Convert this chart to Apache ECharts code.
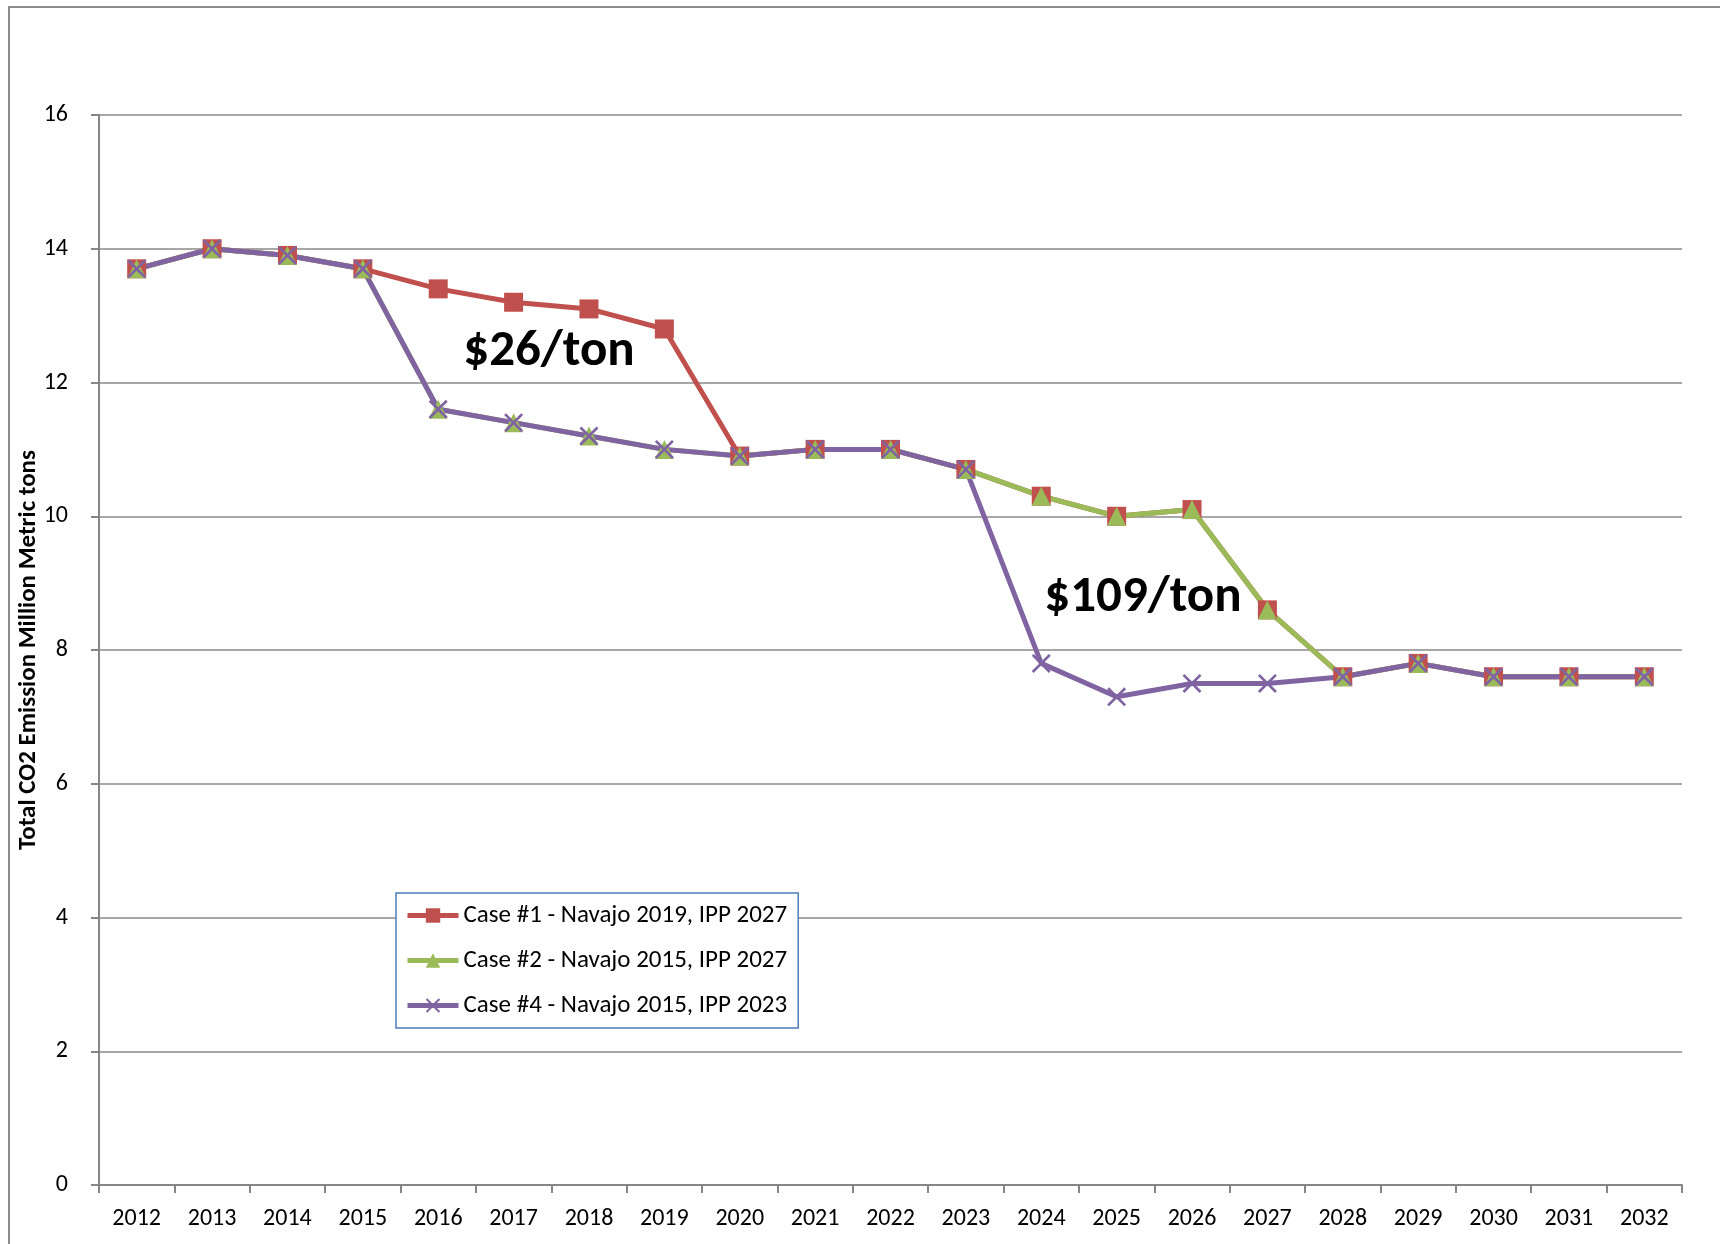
<!DOCTYPE html>
<html>
<head>
<meta charset="utf-8">
<script src="https://cdn.jsdelivr.net/npm/echarts@6/dist/echarts.min.js"></script>
<style>
html,body{margin:0;padding:0;background:#fff;}
#chart{width:1720px;height:1244px;}
</style>
</head>
<body>
<div id="chart"></div>
<script>
const years = ['2012','2013','2014','2015','2016','2017','2018','2019','2020','2021','2022','2023','2024','2025','2026','2027','2028','2029','2030','2031','2032'];
const case1 = [13.7,14.0,13.9,13.7,13.4,13.2,13.1,12.8,10.9,11.0,11.0,10.7,10.3,10.0,10.1,8.6,7.6,7.8,7.6,7.6,7.6];
const case2 = [13.7,14.0,13.9,13.7,11.6,11.4,11.2,11.0,10.9,11.0,11.0,10.7,10.3,10.0,10.1,8.6,7.6,7.8,7.6,7.6,7.6];
const case4 = [13.7,14.0,13.9,13.7,11.6,11.4,11.2,11.0,10.9,11.0,11.0,10.7,7.8,7.3,7.5,7.5,7.6,7.8,7.6,7.6,7.6];
const seriesNames = ['Case #1 - Navajo 2019, IPP 2027','Case #2 - Navajo 2015, IPP 2027','Case #4 - Navajo 2015, IPP 2023'];
const yAxisTitle = 'Total CO2 Emission Million Metric tons';
const annotations = ['$26/ton','$109/ton'];

const FONT = 'Carlito, "Liberation Sans", Arial, sans-serif';
const crossPath = 'path://M0,1L1,0L5,4L9,0L10,1L6,5L10,9L9,10L5,6L1,10L0,9L4,5Z';

const chart = echarts.init(document.getElementById('chart'), null, {renderer:'canvas'});
chart.setOption({
  animation:false,
  backgroundColor:'#ffffff',
  textStyle:{fontFamily:FONT},
  grid:{left:99,right:38,top:115,bottom:59,containLabel:false},
  xAxis:{
    type:'category',
    data:years,
    boundaryGap:true,
    axisLine:{show:true,lineStyle:{color:'#868686',width:2}},
    axisTick:{show:true,length:8,lineStyle:{color:'#868686',width:2}},
    axisLabel:{color:'#000',fontSize:24,fontFamily:FONT,margin:22,interval:0},
    splitLine:{show:false}
  },
  yAxis:{
    type:'value',
    min:0,max:16,interval:2,
    name:yAxisTitle,
    nameLocation:'middle',
    nameGap:58,
    nameMoveOverlap:false,
    nameRotate:90,
    nameTextStyle:{color:'#000',fontSize:25,fontWeight:'bold',fontFamily:FONT},
    axisLine:{show:true,lineStyle:{color:'#868686',width:2}},
    axisTick:{show:true,length:8,lineStyle:{color:'#868686',width:2}},
    axisLabel:{color:'#000',fontSize:24,fontFamily:FONT,margin:31},
    splitLine:{show:true,lineStyle:{color:'#8a8a8a',width:1.5}}
  },
  legend:{
    orient:'vertical',
    left:396,top:893,
    data:seriesNames,
    backgroundColor:'#ffffff',
    borderColor:'#4A7EBB',
    borderWidth:1.5,
    borderRadius:0,
    padding:[9,11,9,9],
    itemWidth:51,
    itemHeight:18,
    itemGap:18,
    lineStyle:{width:5},
    textStyle:{color:'#000',fontSize:25,fontFamily:FONT,lineHeight:27},
    z:10
  },
  graphic:[
    {type:'rect',shape:{x:9,y:7,width:1760,height:1300},style:{fill:null,stroke:'#8c8c8c',lineWidth:2},silent:true,z:-1},
    {type:'text',x:549,y:352,style:{text:annotations[0],font:'bold 51px '+FONT,fill:'#000',textAlign:'center',textVerticalAlign:'middle'},z:20},
    {type:'text',x:1143,y:598,style:{text:annotations[1],font:'bold 51px '+FONT,fill:'#000',textAlign:'center',textVerticalAlign:'middle'},z:20}
  ],
  series:[
    {name:seriesNames[0],type:'line',data:case1,symbol:'rect',symbolSize:19,showAllSymbol:true,
      lineStyle:{color:'#C0504D',width:5},itemStyle:{color:'#C0504D',borderColor:'#C0504D',borderWidth:0}},
    {name:seriesNames[1],type:'line',data:case2,symbol:'triangle',symbolSize:19,showAllSymbol:true,
      lineStyle:{color:'#9BBB59',width:5},itemStyle:{color:'#9BBB59',borderColor:'#9BBB59',borderWidth:0}},
    {name:seriesNames[2],type:'line',data:case4,symbol:crossPath,symbolSize:19,showAllSymbol:true,
      lineStyle:{color:'#8064A2',width:5},itemStyle:{color:'#8064A2',borderColor:'#8064A2',borderWidth:0}}
  ]
});
</script>
</body>
</html>
